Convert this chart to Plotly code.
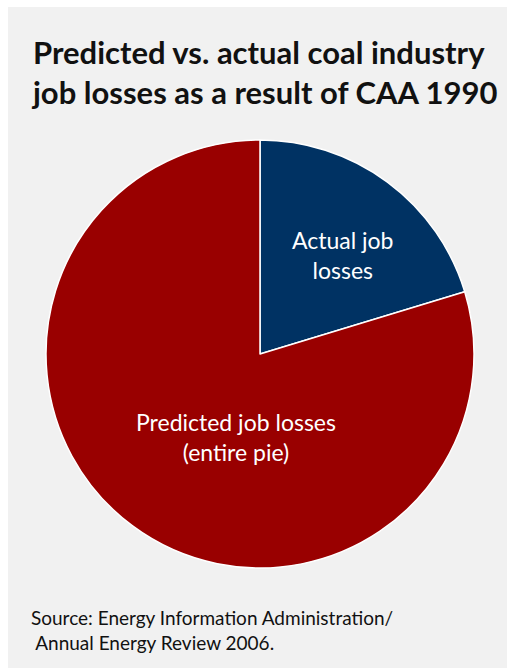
import plotly.graph_objects as go

# Data
slice_labels = ["Actual job losses", "Predicted job losses (entire pie)"]
slice_values = [20.3, 79.7]
slice_colors = ["#003263", "#990000"]

title_lines = ["Predicted vs. actual coal industry", "job losses as a result of CAA 1990"]
source_lines = ["Source: Energy Information Administration/", "\u00a0Annual Energy Review 2006."]
actual_text = "Actual job<br>losses"
predicted_text = "Predicted job losses<br>(entire pie)"

W, H = 507, 670
FONT = "Lato"

fig = go.Figure()
fig.add_trace(go.Pie(
    labels=slice_labels,
    values=slice_values,
    sort=False,
    direction="clockwise",
    rotation=0,
    marker=dict(colors=slice_colors, line=dict(color="white", width=1.5)),
    textinfo="none",
    hoverinfo="label+percent",
    showlegend=False,
    domain=dict(x=[46 / W, 474 / W], y=[1 - 568 / H, 1 - 140 / H]),
))

def px(x):
    return x / W

def py(y):
    return 1 - y / H

annotations = [
    dict(x=px(29), y=py(72), xanchor="left", yanchor="middle", showarrow=False,
         text="<br>".join("<b>" + t + "</b>" for t in title_lines), align="left",
         font=dict(family=FONT, size=31, color="#111111")),
    dict(x=px(343), y=py(255), xanchor="center", yanchor="middle", showarrow=False,
         text=actual_text, align="center",
         font=dict(family=FONT, size=23, color="white")),
    dict(x=px(236), y=py(437), xanchor="center", yanchor="middle", showarrow=False,
         text=predicted_text, align="center",
         font=dict(family=FONT, size=23, color="white")),
    dict(x=px(29), y=py(630), xanchor="left", yanchor="middle", showarrow=False,
         text="<br>".join(source_lines), align="left",
         font=dict(family=FONT, size=19, color="#111111")),
]

fig.update_layout(
    width=W, height=H,
    margin=dict(l=0, r=0, t=0, b=0),
    paper_bgcolor="white",
    plot_bgcolor="white",
    annotations=annotations,
    shapes=[dict(type="rect", xref="paper", yref="paper", x0=px(8), x1=1, y0=py(668), y1=py(7),
                 fillcolor="#f1f1f1", line=dict(width=0), layer="below")],
)

fig.write_html("out.html")
